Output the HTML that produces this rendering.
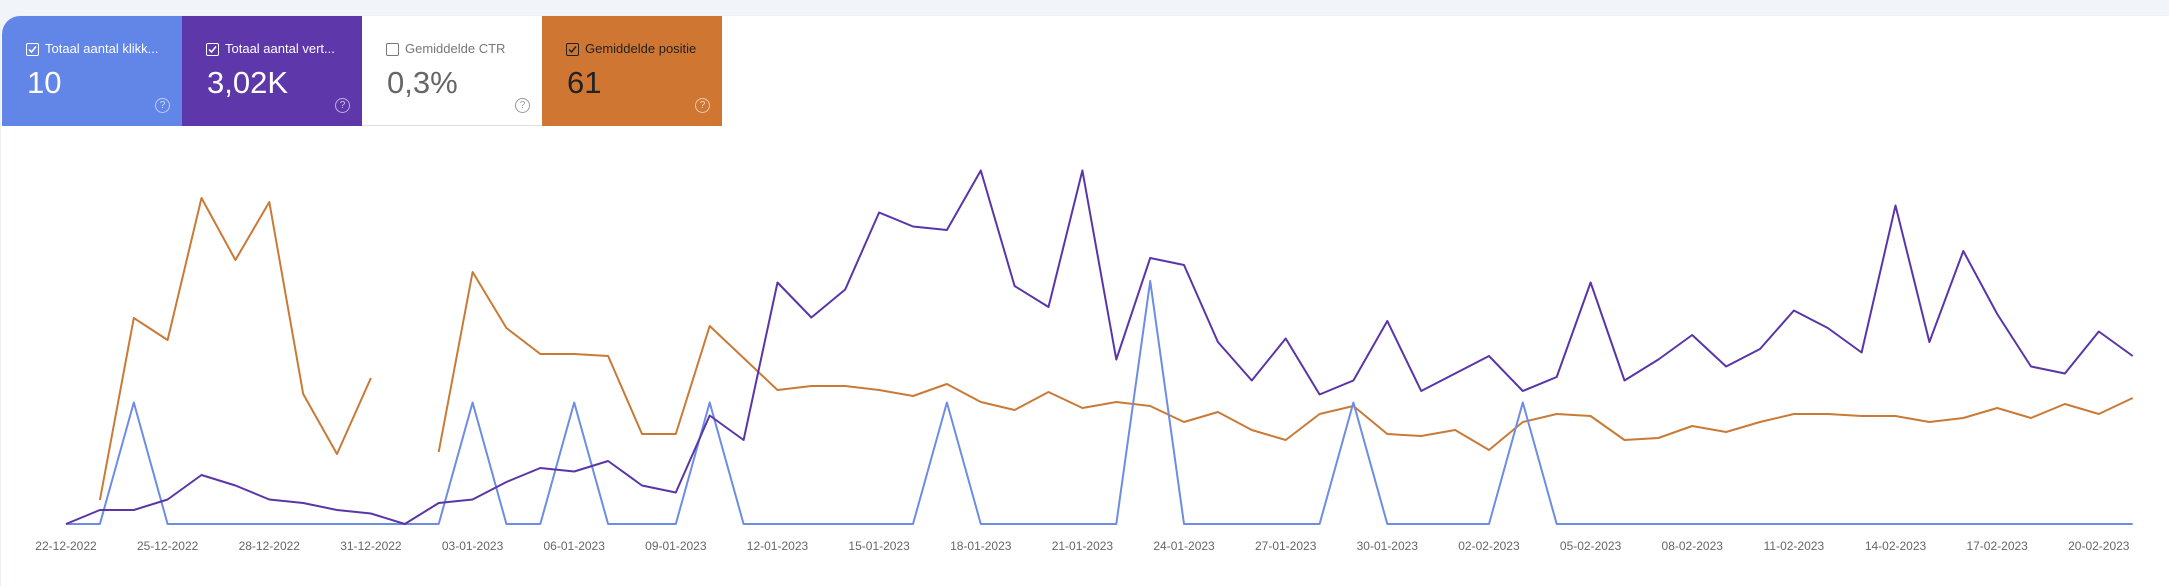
<!DOCTYPE html>
<html><head><meta charset="utf-8"><style>
body{margin:0;width:2169px;height:572px;background:#f1f4f9;font-family:"Liberation Sans",sans-serif;overflow:hidden;position:relative}
#card{position:absolute;left:1px;top:16px;width:2168px;height:570px;background:#fff;border-top-left-radius:18px;box-shadow:0 0 1px #d6dbe4}
.tile{position:absolute;top:16px;width:180px;height:110px;box-sizing:border-box}
.cb{position:absolute;left:24px;top:27px;width:11px;height:11px;border:1.5px solid #fff;border-radius:2px}
.cb svg{position:absolute;left:0;top:0}
.lbl{position:absolute;left:43px;top:25px;font-size:13px;white-space:nowrap}
.val{position:absolute;left:25px;top:49px;font-size:31px}
.help{position:absolute;left:153px;top:82px;width:13px;height:13px;border:1.3px solid rgba(255,255,255,.6);border-radius:50%;font-size:10px;line-height:13px;text-align:center;color:rgba(255,255,255,.7)}
</style></head><body>
<div id="card"></div>
<div class="tile" style="left:2px;background:#6285e8;color:#fff;border-top-left-radius:18px">
 <div class="cb"><svg width="11" height="11"><path d="M2 5.5 L4.5 8 L9 2.5" stroke="#fff" stroke-width="1.5" fill="none"/></svg></div>
 <div class="lbl">Totaal aantal klikk...</div>
 <div class="val">10</div>
 <div class="help">?</div>
</div>
<div class="tile" style="left:182px;background:#5e37ab;color:#fff">
 <div class="cb"><svg width="11" height="11"><path d="M2 5.5 L4.5 8 L9 2.5" stroke="#fff" stroke-width="1.5" fill="none"/></svg></div>
 <div class="lbl">Totaal aantal vert...</div>
 <div class="val">3,02K</div>
 <div class="help">?</div>
</div>
<div class="tile" style="left:362px;background:#fff;color:#757575;border-bottom:1px solid #e0e0e0">
 <div class="cb" style="border-color:#777"></div>
 <div class="lbl" style="color:#777">Gemiddelde CTR</div>
 <div class="val" style="color:#666">0,3%</div>
 <div class="help" style="border-color:#999;color:#999">?</div>
</div>
<div class="tile" style="left:542px;background:#cf7732;color:#222">
 <div class="cb" style="border-color:#222"><svg width="11" height="11"><path d="M2 5.5 L4.5 8 L9 2.5" stroke="#222" stroke-width="1.5" fill="none"/></svg></div>
 <div class="lbl" style="color:#222">Gemiddelde positie</div>
 <div class="val" style="color:#222">61</div>
 <div class="help">?</div>
</div>
<svg id="chart" width="2169" height="572" style="position:absolute;left:0;top:0"></svg>
<script>
const dates=["22-12-2022","25-12-2022","28-12-2022","31-12-2022","03-01-2023","06-01-2023","09-01-2023","12-01-2023","15-01-2023","18-01-2023","21-01-2023","24-01-2023","27-01-2023","30-01-2023","02-02-2023","05-02-2023","08-02-2023","11-02-2023","14-02-2023","17-02-2023","20-02-2023"];
const clicks=[0,0,1,0,0,0,0,0,0,0,0,0,1,0,0,1,0,0,0,1,0,0,0,0,0,0,1,0,0,0,0,0,2,0,0,0,0,0,1,0,0,0,0,1,0,0,0,0,0,0,0,0,0,0,0,0,0,0,0,0,0,0];
const impressions=[0,4,4,7,14,11,7,6,4,3,0,6,7,12,16,15,18,11,9,31,24,69,59,67,89,85,84,101,68,62,101,47,76,74,52,41,53,37,41,58,38,43,48,38,42,69,41,47,54,45,50,61,56,49,91,52,78,60,45,43,55,48];
const positions=[null,87.5,42,47.5,12,27.5,13,61,76,57,null,75.5,30.5,44.5,51,51,51.5,71,71,44,52,60,59,59,60,61.5,58.5,63,65,60.5,64.5,63,64,68,65.5,70,72.5,66,64,71,71.5,70,75,68,66,66.5,72.5,72,69,70.5,68,66,66,66.5,66.5,68,67,64.5,67,63.5,66,62];
const svg=document.getElementById('chart');const NS='http://www.w3.org/2000/svg';
const x=i=>66+i*33.88;
const base=524;
const yClk=v=>base-v*121.5;
const yImp=v=>base-v*3.5;
const yPos=v=>150+v*4;
function line(arr,fy,color,w,name){
  let d='',pen=false;
  arr.forEach((v,i)=>{if(v===null){pen=false;return;}d+=(pen?'L':'M')+x(i).toFixed(1)+' '+fy(v).toFixed(1)+' ';pen=true;});
  const p=document.createElementNS(NS,'path');
  p.setAttribute('d',d);p.setAttribute('fill','none');p.setAttribute('stroke',color);p.setAttribute('stroke-width',w);p.setAttribute('stroke-linejoin','round');
  
  
  svg.appendChild(p);
}
line(positions,yPos,'#c97a36',2,'position-line');
line(clicks,yClk,'#6d8ce4',2,'clicks-line');
line(impressions,yImp,'#5a35a8',2,'impressions-line');
dates.forEach((t,k)=>{
  const tx=document.createElementNS(NS,'text');
  tx.setAttribute('x',x(k*3));tx.setAttribute('y',550);tx.setAttribute('text-anchor','middle');
  tx.setAttribute('font-size','12');tx.setAttribute('fill','#666');tx.setAttribute('font-family','Liberation Sans, sans-serif');
  tx.textContent=t;
  
  
  svg.appendChild(tx);
});
</script>
</body></html>
